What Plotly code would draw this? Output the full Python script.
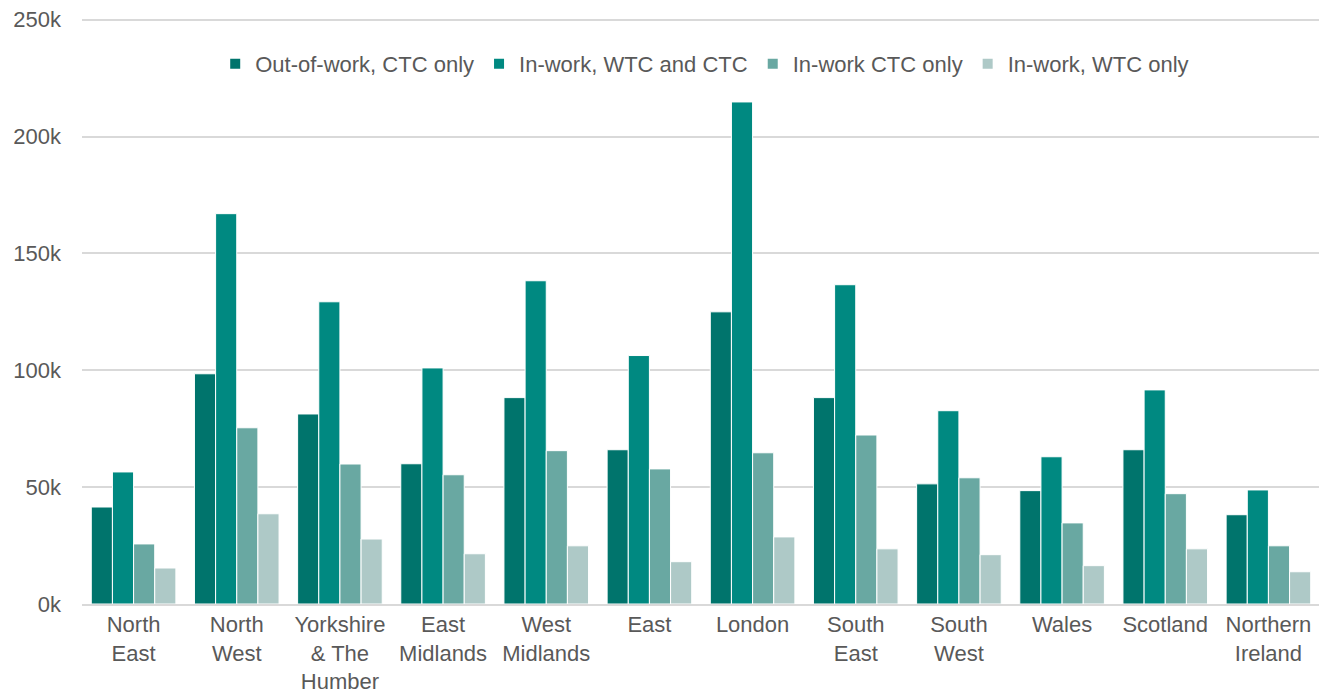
import plotly.graph_objects as go

regions = ["North<br>East", "North<br>West", "Yorkshire<br>& The<br>Humber", "East<br>Midlands",
           "West<br>Midlands", "East", "London", "South<br>East", "South<br>West", "Wales",
           "Scotland", "Northern<br>Ireland"]

# values in thousands
out_of_work_ctc = [41.5, 98.5, 81.3, 60.0, 88.3, 66.0, 125.0, 88.3, 51.4, 48.5, 66.0, 38.2]
in_work_wtc_ctc = [56.5, 167.0, 129.3, 101.0, 138.3, 106.3, 214.8, 136.6, 82.7, 63.0, 91.6, 48.8]
in_work_ctc = [25.7, 75.4, 59.9, 55.3, 65.6, 57.8, 64.7, 72.3, 54.0, 34.7, 47.2, 24.9]
in_work_wtc = [15.4, 38.6, 27.8, 21.5, 24.9, 18.1, 28.7, 23.6, 21.1, 16.4, 23.6, 13.8]

tick_vals = [0, 50, 100, 150, 200, 250]
tick_text = ["0k", "50k", "100k", "150k", "200k", "250k"]

series = [
    ("Out-of-work, CTC only", out_of_work_ctc, "#00746C"),
    ("In-work, WTC and CTC", in_work_wtc_ctc, "#008981"),
    ("In-work CTC only", in_work_ctc, "#69A8A2"),
    ("In-work, WTC only", in_work_wtc, "#AEC9C7"),
]

fig = go.Figure()
for name, vals, col in series:
    fig.add_trace(go.Bar(x=regions, y=vals, name=name,
                         marker=dict(color=col, line=dict(color="white", width=1))))

font_fam = "Liberation Sans, Arial, sans-serif"
fig.update_layout(
    width=1319, height=691,
    margin=dict(l=74, r=7, t=7, b=95),
    plot_bgcolor="white", paper_bgcolor="white",
    barmode="group", bargap=0.18, bargroupgap=0,
    font=dict(family=font_fam, size=22, color="#595959"),
    legend=dict(orientation="h", x=0.503, xanchor="center", y=0.917, yanchor="middle",
                font=dict(size=22, color="#595959"), itemsizing="constant",
                traceorder="normal", bgcolor="rgba(0,0,0,0)", entrywidth=0),
    xaxis=dict(showgrid=False, showline=True, linecolor="#d9d9d9", linewidth=1.5,
               tickfont=dict(size=22, color="#595959"), ticks="", automargin=False),
    yaxis=dict(range=[0, 252], tickmode="array", tickvals=tick_vals, ticktext=tick_text,
               showgrid=True, gridcolor="#d9d9d9", gridwidth=1.5, zeroline=False,
               showline=False, tickfont=dict(size=22, color="#595959"), ticks="",
               ticklabelstandoff=20, automargin=False, ticklabeloverflow="allow"),
)

fig.write_html("out.html")
